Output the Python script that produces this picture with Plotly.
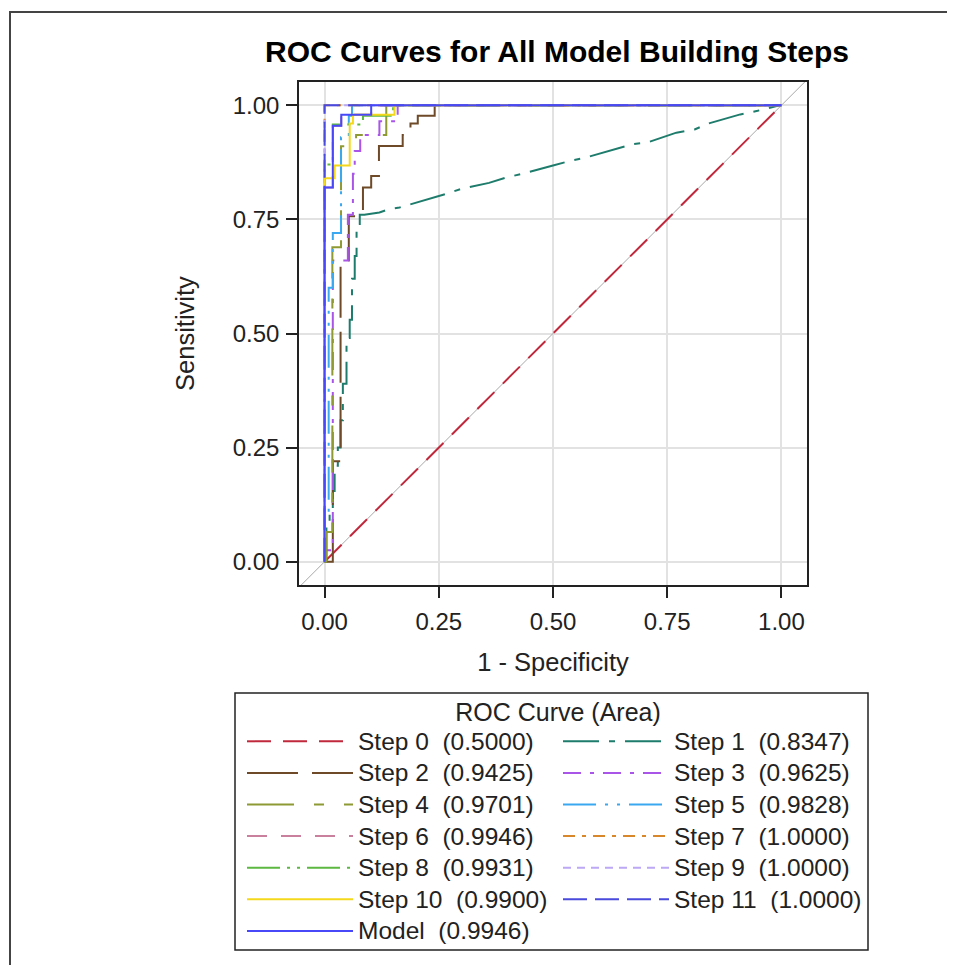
import plotly.graph_objects as go

# ---------------- data ----------------
series_names = ["Step 0", "Step 1", "Step 2", "Step 3", "Step 4", "Step 5", "Step 6",
                "Step 7", "Step 8", "Step 9", "Step 10", "Step 11", "Model"]
auc_values = [0.5000, 0.8347, 0.9425, 0.9625, 0.9701, 0.9828, 0.9946,
              1.0000, 0.9931, 1.0000, 0.9900, 1.0000, 0.9946]

step0_fpr = [0.0, 1.0]
step0_tpr = [0.0, 1.0]

step1_fpr = [0.0, 0.004, 0.004, 0.011, 0.011, 0.018, 0.018, 0.022, 0.022, 0.029, 0.029,
             0.035, 0.035, 0.040, 0.040, 0.048, 0.048, 0.055, 0.055, 0.060, 0.060, 0.066,
             0.066, 0.070, 0.070, 0.077, 0.077, 0.087, 0.120, 0.142, 0.164, 0.230, 0.266,
             0.300, 0.360, 0.398, 0.434, 0.500, 0.540, 0.570, 0.640, 0.675, 0.705, 0.770,
             0.810, 0.840, 0.910, 0.948, 0.996, 1.0]
step1_tpr = [0.0, 0.0, 0.075, 0.075, 0.12, 0.12, 0.155, 0.155, 0.21, 0.21, 0.25,
             0.25, 0.31, 0.31, 0.39, 0.39, 0.49, 0.49, 0.53, 0.53, 0.62, 0.62,
             0.67, 0.67, 0.74, 0.74, 0.76, 0.76, 0.765, 0.773, 0.776, 0.795, 0.806,
             0.817, 0.83, 0.842, 0.85, 0.868, 0.879, 0.885, 0.904, 0.915, 0.918, 0.94,
             0.947, 0.96, 0.98, 0.988, 1.0, 1.0]

step2_fpr = [0.0, 0.018, 0.018, 0.035, 0.035, 0.053, 0.053, 0.084, 0.084, 0.102, 0.102,
             0.119, 0.119, 0.171, 0.171, 0.188, 0.188, 0.204, 0.204, 0.241, 0.241, 1.0]
step2_tpr = [0.0, 0.0, 0.22, 0.22, 0.66, 0.66, 0.757, 0.757, 0.82, 0.82, 0.845,
             0.845, 0.911, 0.911, 0.935, 0.935, 0.96, 0.96, 0.977, 0.977, 1.0, 1.0]

step3_fpr = [0.0, 0.0, 0.018, 0.018, 0.051, 0.051, 0.062, 0.062, 0.066, 0.066, 0.078,
             0.078, 0.120, 0.120, 0.160, 0.160, 1.0]
step3_tpr = [0.0, 0.025, 0.025, 0.66, 0.66, 0.76, 0.76, 0.85, 0.85, 0.90, 0.90,
             0.935, 0.935, 0.965, 0.965, 1.0, 1.0]

step4_fpr = [0.0, 0.004, 0.004, 0.017, 0.017, 0.036, 0.036, 0.069, 0.069, 0.135, 0.135, 1.0]
step4_tpr = [0.0, 0.0, 0.065, 0.065, 0.689, 0.689, 0.91, 0.91, 0.935, 0.935, 1.0, 1.0]

step5_fpr = [0.0, 0.0, 0.009, 0.009, 0.018, 0.018, 0.036, 0.036, 0.053, 0.053, 0.060, 0.060, 1.0]
step5_tpr = [0.0, 0.10, 0.10, 0.60, 0.60, 0.72, 0.72, 0.93, 0.93, 0.977, 0.977, 1.0, 1.0]

model_fpr = [0.0, 0.0, 0.018, 0.018, 0.0365, 0.0365, 0.102, 0.102, 1.0]
model_tpr = [0.0, 0.82, 0.82, 0.955, 0.955, 0.979, 0.979, 1.0, 1.0]

step6_fpr = list(model_fpr)
step6_tpr = list(model_tpr)

step7_fpr = [0.0, 0.0, 1.0]
step7_tpr = [0.0, 1.0, 1.0]

step8_fpr = [0.0, 0.0, 0.018, 0.018, 0.084, 0.084, 0.150, 0.150, 1.0]
step8_tpr = [0.0, 0.87, 0.87, 0.958, 0.958, 0.977, 0.977, 1.0, 1.0]

step9_fpr = [0.0, 0.0, 1.0]
step9_tpr = [0.0, 1.0, 1.0]

step10_fpr = [0.0, 0.0, 0.022, 0.022, 0.055, 0.055, 0.062, 0.062, 0.153, 0.153, 1.0]
step10_tpr = [0.0, 0.84, 0.84, 0.868, 0.868, 0.96, 0.96, 0.979, 0.979, 1.0, 1.0]

step11_fpr = [0.0, 0.0, 1.0]
step11_tpr = [0.0, 1.0, 1.0]

tick_vals = [0.0, 0.25, 0.50, 0.75, 1.00]
tick_text = ["0.00", "0.25", "0.50", "0.75", "1.00"]

# ---------------- styles ----------------
curves_fpr = [step0_fpr, step1_fpr, step2_fpr, step3_fpr, step4_fpr, step5_fpr, step6_fpr,
              step7_fpr, step8_fpr, step9_fpr, step10_fpr, step11_fpr, model_fpr]
curves_tpr = [step0_tpr, step1_tpr, step2_tpr, step3_tpr, step4_tpr, step5_tpr, step6_tpr,
              step7_tpr, step8_tpr, step9_tpr, step10_tpr, step11_tpr, model_tpr]
colors = ["#C0283C", "#1E7C6C", "#6E4A28", "#A855E8", "#8E9A34", "#3AA8F0", "#C8809C",
          "#D8882A", "#5CB840", "#BCA8F4", "#F4D81C", "#4A4ADC", "#4848F8"]
dashes = ["24px,12px", "36px,10px,6px,10px", "51px,14px", "18px,9px,4px,9px",
          "47px,20px,10px,20px", "33px,9px,3px,9px,3px,9px", "20px,14px",
          "12px,7px,4px,7px", "33px,7px,3px,7px,3px,7px", "8px,6px", "solid",
          "24px,8px", "solid"]

FONT = "Liberation Sans, Arial, sans-serif"
X_RANGE = [-0.056, 1.056]
Y_RANGE = [-0.051, 1.051]

# page body margin shifts the figure by this many pixels on screen
OFF = 8
W, H = 955, 965
L = 299 - OFF
T = 82 - OFF
R = W - (807 - OFF)
B = H - (585 - OFF)
PW, PH = W - L - R, H - T - B


def px_x(px):
    """screen x (reference picture) -> paper coordinate"""
    return (px - OFF - L) / PW


def px_y(py):
    """screen y (reference picture) -> paper coordinate"""
    return (H - B - (py - OFF)) / PH


fig = go.Figure()

# reference diagonal
fig.add_trace(go.Scatter(x=X_RANGE, y=X_RANGE, mode="lines",
                         line=dict(color="#A8A8A8", width=1),
                         showlegend=False, hoverinfo="skip"))

for name, auc, fx, ty, col, dsh in zip(series_names, auc_values, curves_fpr, curves_tpr,
                                       colors, dashes):
    label = f"{name}\u00a0\u00a0({auc:.4f})"
    fig.add_trace(go.Scatter(
        x=fx, y=ty, mode="lines",
        name=f'<span style="font-size:24.5px">{label}</span>',
        line=dict(color=col, width=2, dash=dsh),
    ))

axis_common = dict(
    tickvals=tick_vals, ticktext=tick_text,
    showgrid=True, gridcolor="#E2E2E2", gridwidth=1.5,
    zeroline=False,
    showline=True, linecolor="#222222", linewidth=1.6, mirror=True,
    ticks="outside", ticklen=11, tickwidth=1.5, tickcolor="#222222",
    tickfont=dict(family=FONT, size=24, color="#222222"),
)

fig.update_layout(
    width=W, height=H,
    margin=dict(l=L, r=R, t=T, b=B, autoexpand=False),
    paper_bgcolor="white", plot_bgcolor="white",
    title=dict(text="<b>ROC Curves for All Model Building Steps</b>",
               font=dict(family=FONT, size=30, color="#000000"),
               x=px_x(557), xanchor="center", xref="paper",
               y=1 - (51 - OFF) / H, yanchor="middle", yref="container"),
    xaxis=dict(range=X_RANGE, title=dict(text="1 - Specificity", standoff=20,
                                         font=dict(family=FONT, size=25.5, color="#222222")),
               ticklabelstandoff=3, **axis_common),
    yaxis=dict(range=Y_RANGE, title=dict(text="Sensitivity", standoff=31,
                                         font=dict(family=FONT, size=25.5, color="#222222")),
               ticklabelstandoff=2, **axis_common),
    legend=dict(orientation="h", x=px_x(242), xanchor="left",
                y=px_y(688), yanchor="top",
                itemwidth=106, entrywidth=195, entrywidthmode="pixels",
                font=dict(family=FONT, size=22, color="#222222"),
                title=dict(text="ROC Curve (Area)", side="top center",
                           font=dict(family=FONT, size=25, color="#222222")),
                bgcolor="rgba(0,0,0,0)", borderwidth=0, traceorder="normal"),
    shapes=[
        dict(type="rect", xref="paper", yref="paper",
             x0=px_x(10), x1=px_x(W + 30), y0=px_y(H + 30), y1=px_y(12),
             line=dict(color="#444444", width=2), fillcolor="rgba(0,0,0,0)", layer="below"),
        dict(type="rect", xref="paper", yref="paper",
             x0=px_x(235), x1=px_x(868), y0=px_y(950), y1=px_y(693),
             line=dict(color="#222222", width=1.5), fillcolor="rgba(0,0,0,0)"),
    ],
)

fig.write_html("out.html")
